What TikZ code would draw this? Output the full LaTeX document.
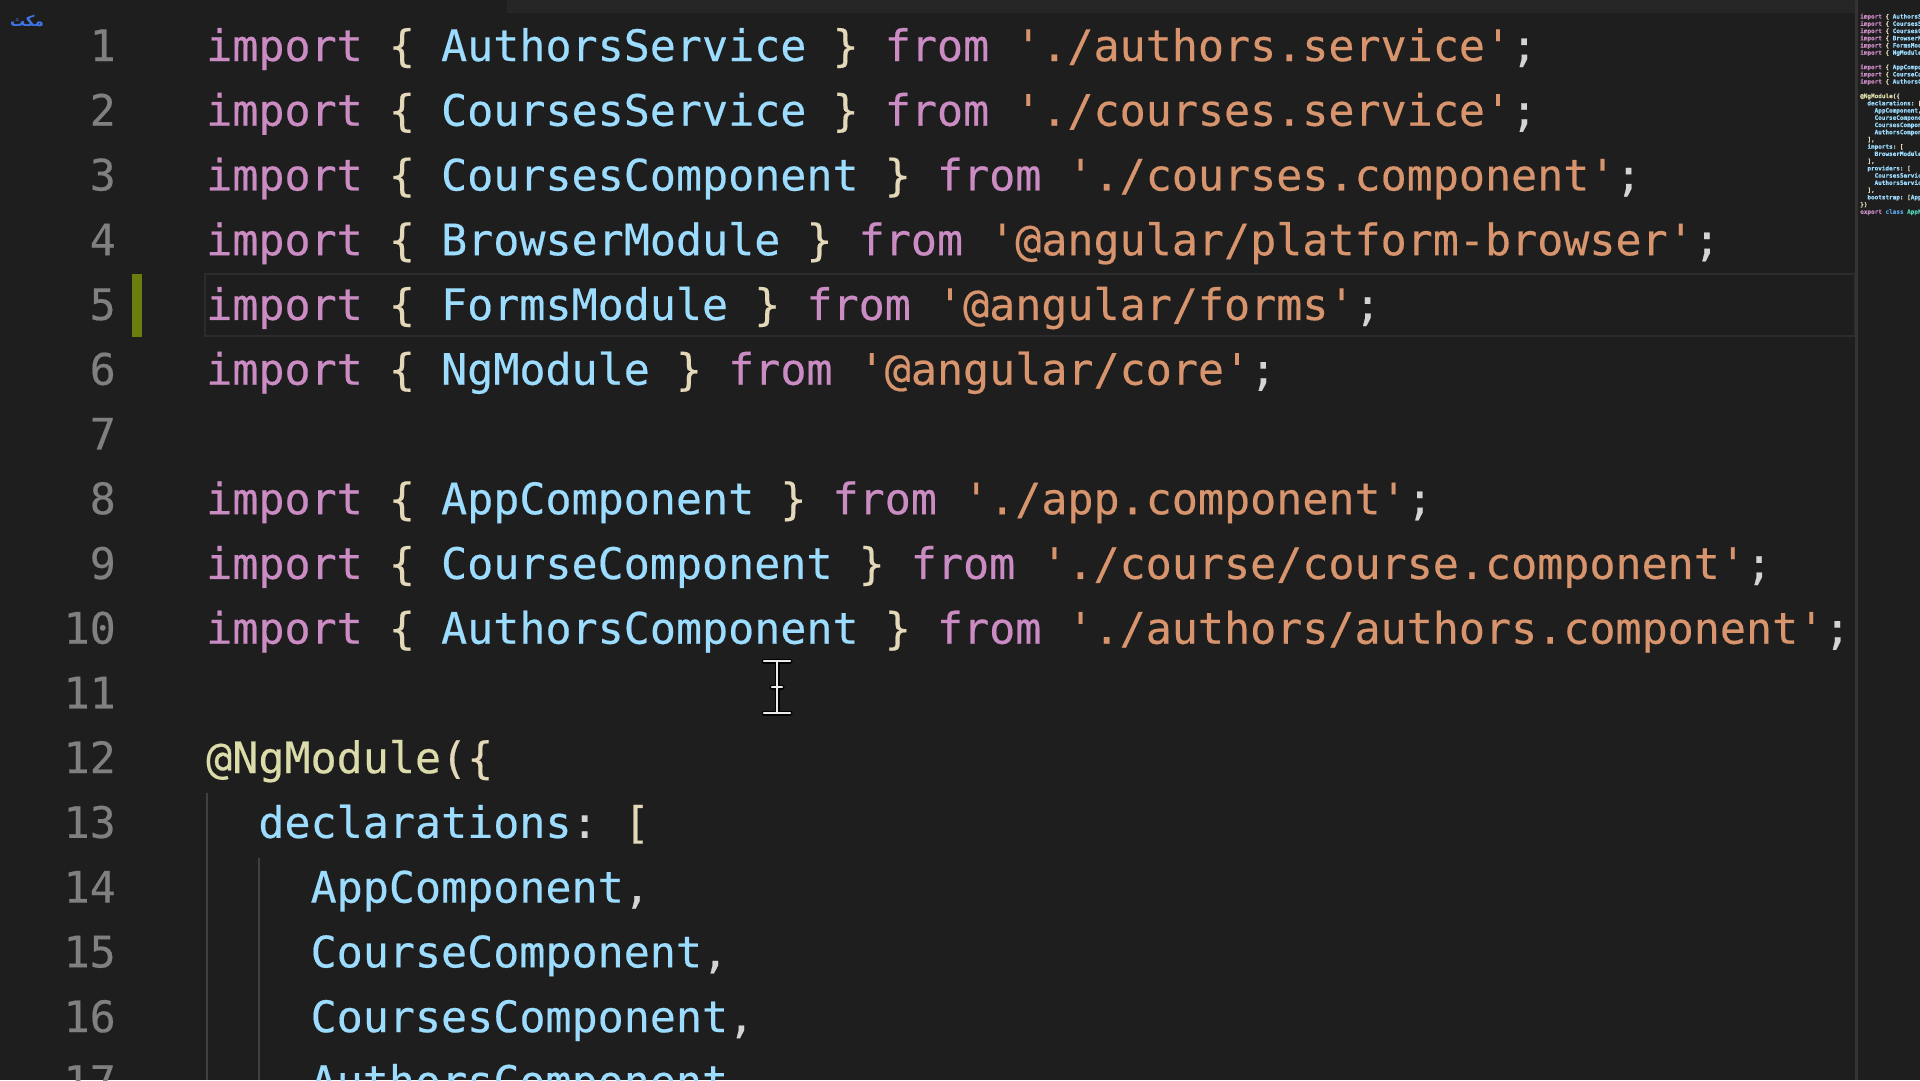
\documentclass[tikz,border=0pt]{standalone}
\usepackage{fontspec}
\setmonofont{DejaVu Sans Mono}[FakeBold=0.4]
\newfontfamily\arabicfont[Script=Arabic]{DejaVu Sans}
\TeXXeTstate=1
\usetikzlibrary{positioning}

% editor colours
\definecolor{editorbg}{HTML}{1E1E1E}
\definecolor{topband}{HTML}{262626}
\definecolor{lnum}{HTML}{808080}
\definecolor{kwc}{HTML}{CB8BC3}
\definecolor{idc}{HTML}{9CDCFE}
\definecolor{strc}{HTML}{D8946C}
\definecolor{brc}{HTML}{E3D9B8}
\definecolor{punc}{HTML}{D4D4D4}
\definecolor{decoc}{HTML}{DCDCAA}
\definecolor{clsc}{HTML}{569CD6}
\definecolor{typec}{HTML}{4EC9B0}
\definecolor{guidec}{HTML}{404040}
\definecolor{gitbar}{HTML}{6A7D0E}
\definecolor{curline}{HTML}{2C2C2C}
\definecolor{wmark}{HTML}{3F74E6}

\newcommand\kw[1]{\textcolor{kwc}{#1}}
\newcommand\idt[1]{\textcolor{idc}{#1}}
\newcommand\strg[1]{\textcolor{strc}{#1}}
\newcommand\brk[1]{\textcolor{brc}{#1}}
\newcommand\pnc[1]{\textcolor{punc}{#1}}
\newcommand\deco[1]{\textcolor{decoc}{#1}}
\newcommand\imp[2]{\kw{import} \brk{\{} \idt{#1} \brk{\}} \kw{from} \strg{'#2'}\pnc{;}}
\newcommand\codesize{\fontsize{43.35}{52}\selectfont}
\newcommand\minisize{\fontsize{6}{7.23}\selectfont}
\frenchspacing

\begin{document}
\begin{tikzpicture}[
    x=1pt, y=-1pt,
    code/.style={anchor=base west, inner sep=0, font=\codesize\ttfamily, text=idc},
    lineno/.style={anchor=base east, inner sep=0, font=\codesize\ttfamily, text=lnum},
    mini/.style={anchor=north west, inner sep=0, align=left, font=\minisize\ttfamily\bfseries},
    guide/.style={guidec, line width=1.5}
]
\def\lh{64.74}

\useasboundingbox (0,0) rectangle (1920,1080);
\clip (0,0) rectangle (1920,1080);
\fill[editorbg] (0,0) rectangle (1920,1080);
\fill[topband] (507,0) rectangle (1855,13);

% current line and git gutter
\draw[curline, line width=2] (205,{61+4*\lh-46}) rectangle (1855,{61+4*\lh+16});
\fill[gitbar] (132,{61+4*\lh-46}) rectangle (142,{61+4*\lh+17});

% indent guides
\draw[guide] (207,{61+12*\lh-45}) -- (207,1080);
\draw[guide] (259,{61+13*\lh-45}) -- (259,1080);

% line numbers
\foreach \n in {1,...,17}
  \node[lineno] (N\n) at (116,{61+(\n-1)*\lh}) {\n};

% code
\node[code] (L1) at (206,61) {\imp{AuthorsService}{./authors.service}};
\node[code] (L2) at (206,{61+1*\lh}) {\imp{CoursesService}{./courses.service}};
\node[code] (L3) at (206,{61+2*\lh}) {\imp{CoursesComponent}{./courses.component}};
\node[code] (L4) at (206,{61+3*\lh}) {\imp{BrowserModule}{@angular/platform-browser}};
\node[code] (L5) at (206,{61+4*\lh}) {\imp{FormsModule}{@angular/forms}};
\node[code] (L6) at (206,{61+5*\lh}) {\imp{NgModule}{@angular/core}};

\node[code] (L8) at (206,{61+7*\lh}) {\imp{AppComponent}{./app.component}};
\node[code] (L9) at (206,{61+8*\lh}) {\imp{CourseComponent}{./course/course.component}};
\node[code] (L10) at (206,{61+9*\lh}) {\imp{AuthorsComponent}{./authors/authors.component}};

\node[code] (L12) at (206,{61+11*\lh}) {\deco{@NgModule}\brk{(\{}};
\node[code] (L13) at (258.2,{61+12*\lh}) {declarations\pnc{:} \brk{[}};
\node[code] (L14) at (310.4,{61+13*\lh}) {AppComponent\pnc{,}};
\node[code] (L15) at (310.4,{61+14*\lh}) {CourseComponent\pnc{,}};
\node[code] (L16) at (310.4,{61+15*\lh}) {CoursesComponent\pnc{,}};
\node[code] (L17) at (310.4,{61+16*\lh}) {AuthorsComponent};

% mouse text cursor
\draw[black, line width=5, line cap=round]
  (764,661) -- (790,661) (777,661) -- (777,713) (764,713) -- (790,713) (772,687) -- (782,687);
\draw[white!92!black, line width=2.5, line cap=round]
  (764,661) -- (790,661) (777,661) -- (777,713) (764,713) -- (790,713) (772,687) -- (782,687);

% minimap
\draw[black!80, line width=3] (1856,0) -- (1856,1080);
\node[mini] (map) at (1860,13.5) {%
\imp{AuthorsService}{./authors.service}\\
\imp{CoursesService}{./courses.service}\\
\imp{CoursesComponent}{./courses.component}\\
\imp{BrowserModule}{@angular/platform-browser}\\
\imp{FormsModule}{@angular/forms}\\
\imp{NgModule}{@angular/core}\\
\mbox{}\\
\imp{AppComponent}{./app.component}\\
\imp{CourseComponent}{./course/course.component}\\
\imp{AuthorsComponent}{./authors/authors.component}\\
\mbox{}\\
\deco{@NgModule}\brk{(\{}\\
\hspace*{1.2em}\idt{declarations}\pnc{:} \brk{[}\\
\hspace*{2.4em}\idt{AppComponent}\pnc{,}\\
\hspace*{2.4em}\idt{CourseComponent}\pnc{,}\\
\hspace*{2.4em}\idt{CoursesComponent}\pnc{,}\\
\hspace*{2.4em}\idt{AuthorsComponent}\\
\hspace*{1.2em}\brk{]}\pnc{,}\\
\hspace*{1.2em}\idt{imports}\pnc{:} \brk{[}\\
\hspace*{2.4em}\idt{BrowserModule}\\
\hspace*{1.2em}\brk{]}\pnc{,}\\
\hspace*{1.2em}\idt{providers}\pnc{:} \brk{[}\\
\hspace*{2.4em}\idt{CoursesService}\pnc{,}\\
\hspace*{2.4em}\idt{AuthorsService}\\
\hspace*{1.2em}\brk{]}\pnc{,}\\
\hspace*{1.2em}\idt{bootstrap}\pnc{:} \brk{[}\idt{AppComponent}\brk{]}\\
\brk{\})}\\
\kw{export} \textcolor{clsc}{class} \textcolor{typec}{AppModule} \brk{\{ \}}};

% watermark
\node[text=wmark, font=\arabicfont\fontsize{15}{15}\selectfont\bfseries] (mark) at (27,21) {\beginR مكث\endR};
\end{tikzpicture}
\end{document}
